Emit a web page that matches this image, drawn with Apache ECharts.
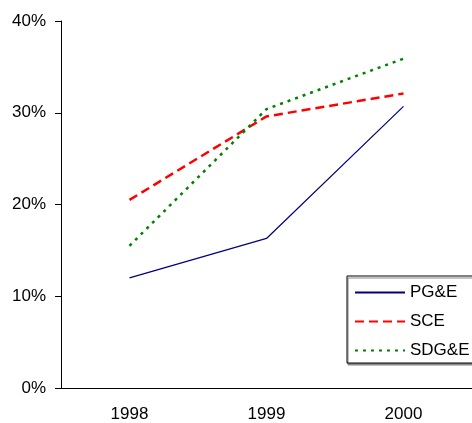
<!DOCTYPE html>
<html>
<head>
<meta charset="utf-8">
<script src="https://cdn.jsdelivr.net/npm/echarts@6/dist/echarts.min.js"></script>
<style>
  html, body { margin: 0; padding: 0; background: #fff; }
  #chart { width: 472px; height: 423px; }
</style>
</head>
<body>
<div id="chart"></div>
<script>
// data (fractions)
var years = ['1998', '1999', '2000']
var pge = [0.120, 0.163, 0.307]
var sce = [0.205, 0.296, 0.321]
var sdge = [0.155, 0.304, 0.359]

var font = 'Liberation Sans, Arial, sans-serif'

var chart = echarts.init(document.getElementById('chart'))
var option = {
  animation: false,
  backgroundColor: '#fff',
  grid: {
    left: 61,
    top: 21,
    width: 415,
    height: 369
  },
  legend: {
    orient: 'vertical',
    left: 347,
    top: 276,
    padding: [8, 30, 4, 7],
    itemWidth: 50,
    itemHeight: 17,
    itemGap: 12,
    borderColor: '#000',
    borderWidth: 1,
    shadowColor: '#888',
    shadowOffsetX: 1,
    shadowOffsetY: 2,
    shadowBlur: 0,
    backgroundColor: '#fff',
    itemStyle: { opacity: 0 }, // hide the marker, keep the line
    textStyle: { color: '#000', fontSize: 17, fontFamily: font },
    data: ['PG&E', 'SCE', 'SDG&E']
  },
  xAxis: {
    type: 'category',
    data: years,
    boundaryGap: true,
    axisLine: { lineStyle: { color: '#000', width: 1 } },
    axisTick: { length: 6, lineStyle: { color: '#000' } },
    axisLabel: { color: '#000', fontSize: 17, fontFamily: font, margin: 18 },
    splitLine: { show: false }
  },
  yAxis: {
    type: 'value',
    min: 0,
    max: 0.4,
    interval: 0.1,
    axisLine: { show: true, lineStyle: { color: '#000', width: 1 } },
    axisTick: { show: true, length: 6, lineStyle: { color: '#000' } },
    axisLabel: {
      color: '#000',
      fontSize: 17,
      fontFamily: font,
      margin: 15,
      formatter: function (v) { return Math.round(v * 100) + '%' }
    },
    splitLine: { show: false }
  },
  series: [
    {
      name: 'PG&E',
      type: 'line',
      data: pge,
      symbol: 'none',
      color: '#000080',
      lineStyle: { color: '#000080', width: 1.2 }
    },
    {
      name: 'SCE',
      type: 'line',
      data: sce,
      symbol: 'none',
      color: '#ff0000',
      lineStyle: { color: '#ff0000', width: 2.5, type: [9, 5] }
    },
    {
      name: 'SDG&E',
      type: 'line',
      data: sdge,
      symbol: 'none',
      color: '#008000',
      lineStyle: { color: '#008000', width: 2.5, type: [3, 5] }
    }
  ]
}
chart.setOption(option)
</script>
</body>
</html>
